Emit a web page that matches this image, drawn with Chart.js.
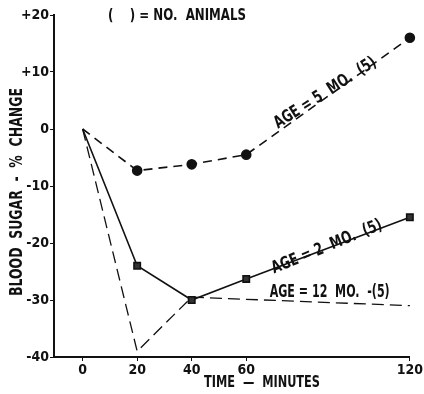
<!DOCTYPE html>
<html>
<head>
<meta charset="utf-8">
<script src="https://cdn.jsdelivr.net/npm/chart.js@4"></script>
<style>
  html, body { margin: 0; padding: 0; background: #fff; }
  #wrap { width: 424px; height: 394px; }
</style>
</head>
<body>
<div id="wrap"><canvas id="c" width="424" height="394"></canvas></div>
<script>
// data
const minutes = [0, 20, 40, 60, 120];
const age5Mo = [0, -7.3, -6.2, -4.5, 16];
const age2Mo = [0, -24, -30, -26.3, -15.5];
const age12Minutes = [0, 20, 40, 120];
const age12Mo = [0, -39, -29.5, -31];
const xTicks = [0, 20, 40, 60, 120];
const yTicks = [20, 10, 0, -10, -20, -30, -40];

const FONT = '"Liberation Sans Narrow", "DejaVu Sans Condensed", "Arial Narrow", sans-serif';
const INK = '#111';

// draw text centred at (x, y), rotated, squeezed to a target width
function drawLabel(ctx, text, x, y, size, angle, width) {
    ctx.save();
    ctx.font = 'bold ' + size + 'px ' + FONT;
    ctx.fillStyle = INK;
    ctx.textAlign = 'center';
    ctx.textBaseline = 'middle';
    ctx.translate(x, y);
    ctx.rotate(angle);
    const w = ctx.measureText(text).width;
    if (width && w > 0) ctx.scale(width / w, 1);
    ctx.fillText(text, 0, 0);
    ctx.restore();
}

const labelsPlugin = {
    id: 'labels',
    afterDraw(chart) {
        const ctx = chart.ctx;
        const xs = chart.scales.x, ys = chart.scales.y;
        drawLabel(ctx, '(    ) = NO.  ANIMALS', 177, 16, 15, 0, 138);
        drawLabel(ctx, 'AGE = 5  MO.  (5)', xs.getPixelForValue(89), ys.getPixelForValue(6.3), 17, -0.57, 118);
        drawLabel(ctx, 'AGE = 2  MO.  (5)', xs.getPixelForValue(89.6), ys.getPixelForValue(-20.7), 17, -0.39, 118);
        drawLabel(ctx, 'AGE = 12  MO.  -(5)', xs.getPixelForValue(90.6), ys.getPixelForValue(-28.7), 17, 0, 120);
        drawLabel(ctx, 'BLOOD  SUGAR  -  %  CHANGE', 18, 192, 17, -Math.PI / 2, 208);
        drawLabel(ctx, 'TIME  \u2014  MINUTES', 262, 383, 15, 0, 116);
    }
};

new Chart(document.getElementById('c').getContext('2d'), {
    type: 'line',
    data: {
        datasets: [
            {
                label: 'AGE = 5 MO.',
                data: minutes.map((m, i) => ({ x: m, y: age5Mo[i] })),
                borderColor: INK,
                borderWidth: 1.6,
                borderDash: [9, 6],
                pointStyle: 'circle',
                pointRadius: [0, 4.5, 4.5, 4.5, 4.5],
                pointBackgroundColor: INK,
                pointBorderColor: INK
            },
            {
                label: 'AGE = 2 MO.',
                data: minutes.map((m, i) => ({ x: m, y: age2Mo[i] })),
                borderColor: INK,
                borderWidth: 1.6,
                pointStyle: 'rect',
                pointRadius: [0, 4.5, 4.5, 4.5, 4.5],
                pointBackgroundColor: '#333',
                pointBorderColor: INK
            },
            {
                label: 'AGE = 12 MO.',
                data: age12Minutes.map((m, i) => ({ x: m, y: age12Mo[i] })),
                borderColor: INK,
                borderWidth: 1.3,
                borderDash: [12, 6],
                pointRadius: 0
            }
        ]
    },
    options: {
        responsive: false,
        animation: false,
        clip: false,
        layout: { padding: { top: 15, right: 6, left: 0, bottom: 0 } },
        plugins: {
            legend: { display: false },
            tooltip: { enabled: false }
        },
        scales: {
            x: {
                type: 'linear',
                min: -10.5,
                max: 120,
                afterBuildTicks: (scale) => { scale.ticks = xTicks.map(v => ({ value: v })); },
                afterFit: (scale) => { scale.height = 37; },
                grid: { drawOnChartArea: false, drawTicks: true, tickLength: 4, color: INK },
                border: { display: true, color: INK, width: 2 },
                ticks: { color: INK, padding: 1, font: { family: FONT, size: 14, weight: 'bold' } }
            },
            y: {
                min: -40,
                max: 20,
                afterBuildTicks: (scale) => { scale.ticks = yTicks.map(v => ({ value: v })); },
                afterFit: (scale) => { scale.width = 54; },
                grid: { drawOnChartArea: false, drawTicks: true, tickLength: 4, color: INK },
                border: { display: true, color: INK, width: 2 },
                ticks: {
                    color: INK,
                    padding: 1,
                    font: { family: FONT, size: 14, weight: 'bold' },
                    callback: (v) => v > 0 ? '+' + v : String(v)
                }
            }
        }
    },
    plugins: [labelsPlugin]
});
</script>
</body>
</html>
